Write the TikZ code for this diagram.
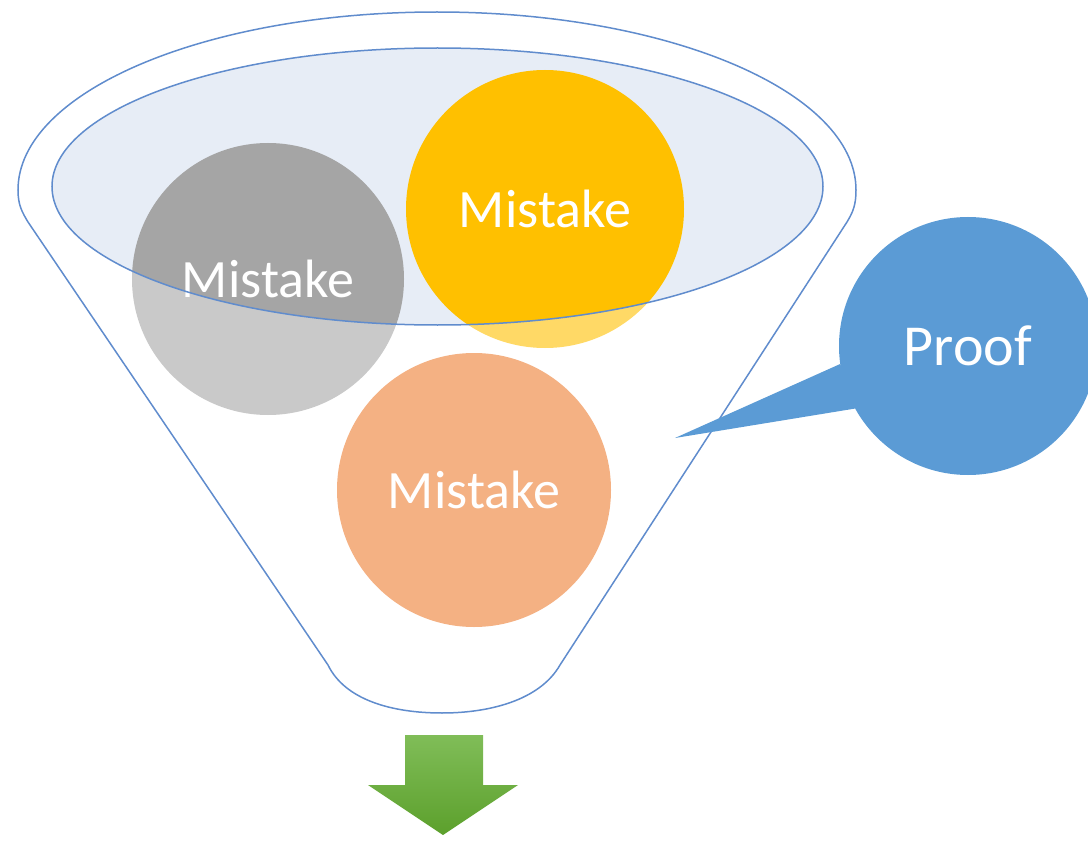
\documentclass[tikz,border=0pt]{standalone}
\usepackage{fontspec}
\setmainfont{Carlito}
\definecolor{outline}{RGB}{96,140,205}
\definecolor{openfill}{RGB}{231,237,246}
\definecolor{mgray}{RGB}{165,165,165}
\definecolor{myellow}{RGB}{255,192,0}
\definecolor{morange}{RGB}{237,125,49}
\definecolor{proofblue}{RGB}{91,155,213}
\definecolor{gtop}{RGB}{128,189,88}
\definecolor{gbot}{RGB}{92,160,44}
\tikzset{
  ball/.style={circle, inner sep=0pt, outer sep=0pt, minimum size=#1, text=white,
    font=\fontsize{54}{60}\selectfont},
  funnelline/.style={draw=outline, line width=1.5pt},
}
\begin{document}
\begin{tikzpicture}[x=1pt,y=1pt]
\useasboundingbox (0,0) rectangle (1088,-848);
% opening of the funnel
\fill[openfill] (437.5,-186.5) ellipse[x radius=385.5, y radius=138.5];
% balls
\node[ball=272pt, fill=mgray] (m1) at (268,-279) {Mistake};
\node[ball=278pt, fill=myellow] (m2) at (545,-209) {Mistake};
\node[ball=274pt, fill=morange] (m3) at (474,-490) {Mistake};
% translucent funnel body
\fill[white, fill opacity=0.4, even odd rule]
  (18,-190) arc[start angle=180, end angle=0, x radius=419, y radius=178]
  .. controls (856,-205) and (853,-212) .. (847,-222)
  -- (560,-665) .. controls (540,-700) and (490,-713) .. (442,-713)
  .. controls (392,-713) and (345,-700) .. (328,-665)
  -- (28,-222) .. controls (22,-212) and (18,-205) .. (18,-190) -- cycle
  (437.5,-186.5) ellipse[x radius=385.5, y radius=138.5];
% outlines
\draw[funnelline]
  (18,-190) arc[start angle=180, end angle=0, x radius=419, y radius=178]
  .. controls (856,-205) and (853,-212) .. (847,-222)
  -- (560,-665) .. controls (540,-700) and (490,-713) .. (442,-713)
  .. controls (392,-713) and (345,-700) .. (328,-665)
  -- (28,-222) .. controls (22,-212) and (18,-205) .. (18,-190) -- cycle;
\draw[funnelline] (437.5,-186.5) ellipse[x radius=385.5, y radius=138.5];
% proof callout
\node[ball=258pt, fill=proofblue, font=\fontsize{58}{64}\selectfont] (proof) at (968,-346) {Proof};
\coordinate (tip) at (675,-438);
\fill[proofblue] (tip) -- (proof.188) -- (proof.209) -- cycle;
% output arrow
\shade[top color=gtop, bottom color=gbot]
  (405,-735) -- (483,-735) -- (483,-785) -- (518,-785) -- (443,-835)
  -- (368,-785) -- (405,-785) -- cycle;
\end{tikzpicture}
\end{document}
